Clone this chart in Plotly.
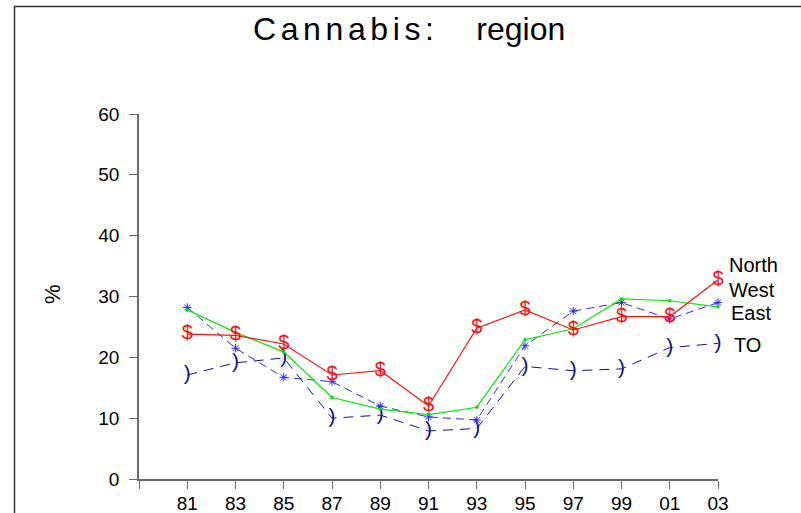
import plotly.graph_objects as go

years = ["81", "83", "85", "87", "89", "91", "93", "95", "97", "99", "01", "03"]
north = [23.8, 23.6, 22.2, 17.1, 17.8, 12.0, 24.8, 27.8, 24.5, 26.7, 26.7, 32.7]
west = [27.8, 24.1, 20.9, 13.4, 11.5, 10.6, 11.8, 22.9, 24.7, 29.6, 29.3, 28.3]
east = [28.2, 21.5, 16.7, 16.0, 12.0, 10.2, 9.7, 21.9, 27.6, 29.0, 26.3, 29.0]
toronto = [17.1, 19.1, 19.9, 10.0, 10.5, 7.9, 8.3, 18.5, 17.8, 18.1, 21.6, 22.3]
yticks = [0, 10, 20, 30, 40, 50, 60]
series_labels = ["North", "West", "East", "TO"]

W, H = 801, 513
L, R, T, B = 139, 83, 114, 34
PW, PH = W - L - R, H - T - B

def px(x):
    return (x - L) / PW

def py(y):
    return (H - B - y) / PH

xs = list(range(len(years)))
FONT = "Liberation Sans, Arial, sans-serif"

fig = go.Figure()

fig.add_trace(go.Scatter(
    x=xs, y=toronto, mode="lines+text", text=[")"] * len(xs),
    textposition="middle center", textfont=dict(family=FONT, size=21, color="#10108a"),
    line=dict(color="#10108a", width=1, dash="10px,7px"), cliponaxis=False, showlegend=False))

fig.add_trace(go.Scatter(
    x=xs, y=east, mode="lines+markers",
    marker=dict(symbol="asterisk-open", size=7, line=dict(color="#2a2aff", width=1)),
    line=dict(color="#2a2aff", width=1, dash="8px,5px"), cliponaxis=False, showlegend=False))

fig.add_trace(go.Scatter(
    x=xs, y=west, mode="lines+markers",
    marker=dict(symbol="square", size=3, color="#00dd00"),
    line=dict(color="#00ee00", width=1.2), cliponaxis=False, showlegend=False))

fig.add_trace(go.Scatter(
    x=xs, y=north, mode="lines+text", text=["$"] * len(xs),
    textposition="middle center", textfont=dict(family=FONT, size=20, color="#ff1010"),
    line=dict(color="#ff1010", width=1.2), cliponaxis=False, showlegend=False))

axis_common = dict(showline=True, linecolor="#6a6a6a", linewidth=1.6, ticks="outside",
                   ticklen=8, tickwidth=1.4, tickcolor="#6a6a6a", showgrid=False,
                   zeroline=False, automargin=False,
                   tickfont=dict(family=FONT, size=19, color="black"))

fig.update_xaxes(range=[-1, len(years) - 1], tickmode="array",
                 tickvals=[-1] + xs, ticktext=[""] + years, ticklabelstandoff=-2,
                 **axis_common)
fig.update_yaxes(range=[0, 60], tickmode="array", tickvals=yticks,
                 ticktext=[str(v) for v in yticks], ticklabelstandoff=6, **axis_common)

annotations = [
    dict(text="<span style='letter-spacing:4.6px'>Cannabis:</span>"
              "<span style='letter-spacing:10px'>\u00a0\u00a0</span>region",
         x=px(251), y=py(29), xref="paper", yref="paper",
         xanchor="left", yanchor="middle", showarrow=False,
         font=dict(family=FONT, size=32, color="black")),
    dict(text="%", x=px(52), y=py(294), xref="paper", yref="paper", textangle=-90,
         xanchor="center", yanchor="middle", showarrow=False,
         font=dict(family=FONT, size=22, color="black")),
]
label_pos = [(727, 265), (727, 290), (729, 313), (732, 345)]
for lab, (lx, ly) in zip(series_labels, label_pos):
    annotations.append(dict(text=lab, x=px(lx), y=py(ly), xref="paper", yref="paper",
                            xanchor="left", yanchor="middle", showarrow=False,
                            font=dict(family=FONT, size=20, color="black")))

shapes = [dict(type="rect", xref="paper", yref="paper",
               x0=px(14.5), x1=px(W + 10), y0=py(H + 10), y1=py(6.5),
               line=dict(color="#333333", width=1.5), fillcolor="rgba(0,0,0,0)")]

fig.update_layout(width=W, height=H, margin=dict(l=L, r=R, t=T, b=B, pad=0, autoexpand=False),
                  paper_bgcolor="white", plot_bgcolor="white",
                  annotations=annotations, shapes=shapes, showlegend=False)

fig.write_html("out.html", config={"displayModeBar": False},
               post_script="document.body.style.margin='0';document.body.style.overflow='hidden';")
